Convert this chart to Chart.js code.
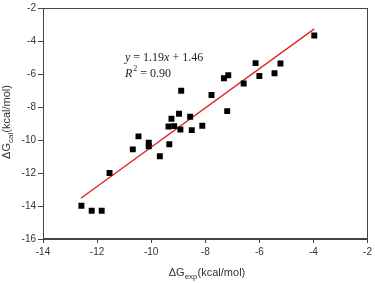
<!DOCTYPE html>
<html>
<head>
<meta charset="utf-8">
<script src="https://cdn.jsdelivr.net/npm/chart.js@4/dist/chart.umd.min.js"></script>
<style>
html,body{margin:0;padding:0;background:#fff;}
#wrap{width:375px;height:283px;}
</style>
</head>
<body>
<div id="wrap"><canvas id="c" width="375" height="283"></canvas></div>
<script>
const expValues = [-12.58,-12.2,-11.83,-11.54,-10.68,-10.47,-10.09,-10.09,-9.68,-9.36,-9.33,-9.25,-9.15,-8.97,-8.92,-8.89,-8.56,-8.50,-8.11,-7.77,-7.31,-7.19,-7.15,-6.58,-6.14,-6.00,-5.44,-5.22,-3.97];
const calValues = [-13.99,-14.29,-14.29,-12.0,-10.57,-9.78,-10.16,-10.38,-10.99,-9.18,-10.26,-8.71,-9.16,-8.41,-9.36,-7.01,-8.59,-9.40,-9.14,-7.27,-6.26,-8.25,-6.08,-6.58,-5.34,-6.12,-5.96,-5.36,-3.67];
const slope = 1.19, intercept = 1.46;
const fitX = [-12.6, -3.97];
const xTicks = [-14,-12,-10,-8,-6,-4,-2];
const yTicks = [-16,-14,-12,-10,-8,-6,-4,-2];

const points = expValues.map((x,i)=>({x:x,y:calValues[i]}));
const fitLine = fitX.map(x=>({x:x,y:slope*x+intercept}));

const axisColor = '#444';
const textColor = '#333';

function drawSub(ctx, x, y, main, sub, rest){
  const f1 = '11px "Liberation Sans", Arial, sans-serif';
  const f2 = '8px "Liberation Sans", Arial, sans-serif';
  ctx.font = f1; const w1 = ctx.measureText(main).width; const w3 = ctx.measureText(rest).width;
  ctx.font = f2; const w2 = ctx.measureText(sub).width;
  const total = w1+w2+w3;
  let sx = x - total/2;
  ctx.textAlign='left'; ctx.textBaseline='middle';
  ctx.font=f1; ctx.fillText(main, sx, y);
  ctx.font=f2; ctx.fillText(sub, sx+w1, y+4);
  ctx.font=f1; ctx.fillText(rest, sx+w1+w2, y);
}

const decor = {
  id:'decor',
  afterDraw(chart){
    const ctx = chart.ctx, a = chart.chartArea;
    ctx.save();
    ctx.strokeStyle = axisColor; ctx.lineWidth = 1;
    ctx.strokeRect(Math.round(a.left)+0.5, Math.round(a.top)+0.5, Math.round(a.right-a.left)-1, Math.round(a.bottom-a.top)-1);
    ctx.fillStyle = textColor;
    drawSub(ctx, 207, 273, '\u0394G', 'exp', '(kcal/mol)');
    ctx.translate(7, 122); ctx.rotate(-Math.PI/2);
    drawSub(ctx, 0, 0, '\u0394G', 'cal', '(kcal/mol)');
    ctx.restore();
    // equation
    ctx.save();
    ctx.fillStyle = '#222';
    ctx.textBaseline='alphabetic'; ctx.textAlign='left';
    let px = 125, py = 61;
    const parts = [['italic','y'],['normal',' = 1.19'],['italic','x'],['normal',' + 1.46']];
    for (const [st,t] of parts){
      ctx.font = st+' 12px "Liberation Serif", "Times New Roman", serif';
      ctx.fillText(t, px, py); px += ctx.measureText(t).width;
    }
    px = 125; py = 77;
    ctx.font = 'italic 12px "Liberation Serif", serif';
    ctx.fillText('R', px, py); px += ctx.measureText('R').width;
    ctx.font = '8px "Liberation Serif", serif';
    ctx.fillText('2', px+1, py-6); px += ctx.measureText('2').width+1;
    ctx.font = '12px "Liberation Serif", serif';
    ctx.fillText(' = 0.90', px, py);
    ctx.restore();
  }
};

new Chart(document.getElementById('c'), {
  type:'scatter',
  data:{datasets:[
    {label:'fit', type:'line', data:fitLine, borderColor:'#e02020', borderWidth:1.3, pointRadius:0, fill:false, order:2},
    {label:'data', data:points, pointStyle:'rect', pointRadius:4.2, backgroundColor:'#000', borderWidth:0, order:1}
  ]},
  options:{
    responsive:false, animation:false, devicePixelRatio:1,
    layout:{padding:{left:0,right:5,top:4,bottom:0}},
    plugins:{legend:{display:false}, tooltip:{enabled:false}},
    scales:{
      x:{type:'linear', min:-14, max:-2,
        afterBuildTicks(s){ s.ticks = xTicks.map(v=>({value:v})); },
        afterFit(s){ s.height = 44; },
        grid:{display:true, drawOnChartArea:false, drawTicks:true, tickLength:4, color:axisColor},
        border:{display:true, color:axisColor},
        ticks:{color:textColor, padding:3, font:{size:10, family:'"Liberation Sans", Arial, sans-serif'}, maxRotation:0}
      },
      y:{type:'linear', min:-16, max:-2,
        afterBuildTicks(s){ s.ticks = yTicks.map(v=>({value:v})); },
        afterFit(s){ s.width = 43; },
        grid:{display:true, drawOnChartArea:false, drawTicks:true, tickLength:5, color:axisColor},
        border:{display:true, color:axisColor},
        ticks:{color:textColor, padding:2, font:{size:10, family:'"Liberation Sans", Arial, sans-serif'}}
      }
    }
  },
  plugins:[decor]
});
</script>
</body>
</html>
